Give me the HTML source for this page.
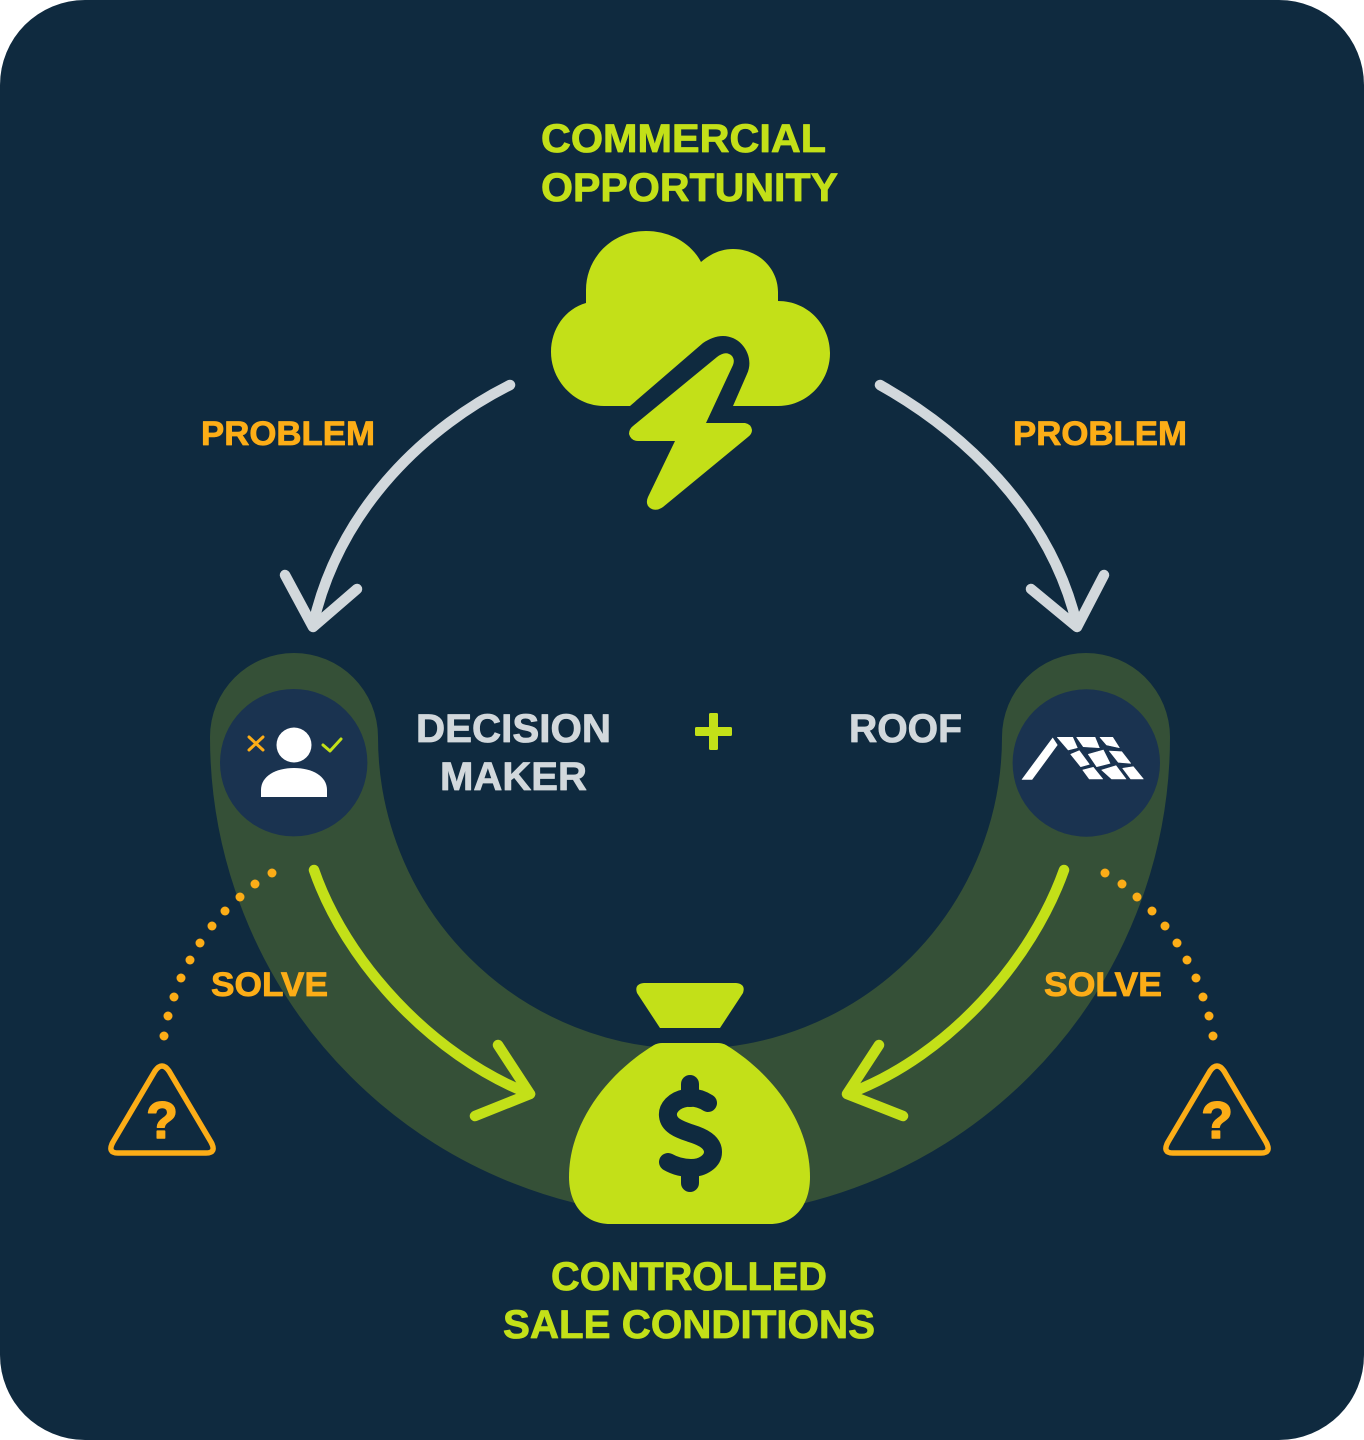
<!DOCTYPE html>
<html>
<head>
<meta charset="utf-8">
<style>
html,body{margin:0;padding:0;background:#fff;width:1364px;height:1440px;overflow:hidden}
svg{display:block}
text{font-family:"Liberation Sans",sans-serif;font-weight:700;stroke-width:.8;stroke-linejoin:round}
</style>
</head>
<body>
<svg width="1364" height="1440" viewBox="0 0 1364 1440" xmlns="http://www.w3.org/2000/svg">
<rect width="1364" height="1440" rx="85" ry="85" fill="#0f2a3f"/>

<path d="M294 737 A396 396 0 0 0 1086 737" fill="none" stroke="#355037" stroke-width="168" stroke-linecap="round"/>

<circle cx="293.7" cy="762.7" r="73.7" fill="#1a3350"/>
<circle cx="1086.3" cy="763" r="73.7" fill="#1a3350"/>

<g fill="#c3e018" stroke="#c3e018">
<text x="541" y="152" font-size="40" textLength="285" lengthAdjust="spacingAndGlyphs">COMMERCIAL</text>
<text x="541" y="201" font-size="40" textLength="297" lengthAdjust="spacingAndGlyphs">OPPORTUNITY</text>
<text x="551" y="1290" font-size="40" textLength="276" lengthAdjust="spacingAndGlyphs">CONTROLLED</text>
<text x="503" y="1338" font-size="40" textLength="372" lengthAdjust="spacingAndGlyphs">SALE CONDITIONS</text>
</g>
<g fill="#fcad17" stroke="#fcad17">
<text x="201" y="445" font-size="34" textLength="174" lengthAdjust="spacingAndGlyphs">PROBLEM</text>
<text x="1013" y="445" font-size="34" textLength="174" lengthAdjust="spacingAndGlyphs">PROBLEM</text>
<text x="211" y="996" font-size="34" textLength="117" lengthAdjust="spacingAndGlyphs">SOLVE</text>
<text x="1044" y="996" font-size="34" textLength="118" lengthAdjust="spacingAndGlyphs">SOLVE</text>
</g>
<g fill="#d2d8dc" stroke="#d2d8dc">
<text x="416" y="742" font-size="40" textLength="195" lengthAdjust="spacingAndGlyphs">DECISION</text>
<text x="440" y="790" font-size="40" textLength="147" lengthAdjust="spacingAndGlyphs">MAKER</text>
<text x="849" y="742" font-size="40" textLength="113" lengthAdjust="spacingAndGlyphs">ROOF</text>
</g>

<!-- plus -->
<rect x="695" y="727" width="37" height="9" rx="1.5" fill="#c3e018"/>
<rect x="709" y="713" width="9" height="37" rx="1.5" fill="#c3e018"/>

<!-- cloud -->
<path fill="#c3e018" d="M630 406 H604 C575 406 551 381 551 352 C551 329 565 309 586 303 V290 C586 257 613 231 646 231 C670 231 691 243 701 262 C710 254 721 249 733 249 C758 249 778 268 778 292 V301 C808 301 830 325 830 353 C830 382 807 406 778 406 H733 L747 374 C755 357 742 336 723 336 C716 336 709 339 703 343 Z"/>
<path fill="#c3e018" d="M717 357 Q726 350 732 356 Q735 360 733 365 L706 423 H745 Q751 424 752 430 Q752 434 748 437 L663 507 Q656 512 650 508 Q645 504 648 497 L675 441 H638 Q631 441 629 434 Q629 429 633 426 Z"/>

<!-- bag -->
<path fill="#c3e018" d="M644 983 H736 Q746 984 743 993 L720 1028 H660 L637 993 Q634 984 644 983 Z"/>
<path fill="#c3e018" d="M662 1043 H718 Q722 1043 726 1045 C775 1075 810 1125 810 1177 C810 1205 795 1224 770 1224 H610 C585 1224 569 1205 569 1177 C569 1125 605 1075 654 1045 Q658 1043 662 1043 Z"/>
<g fill="none" stroke="#0f2a3f" stroke-width="18" stroke-linecap="round" stroke-linejoin="round">
<path d="M708 1103 C700 1098 693 1097 686 1098 C674 1100 667 1108 668 1116 C669 1125 678 1129 690 1133 C703 1137 713 1142 713 1152 C713 1161 703 1168 691 1168 C683 1168 675 1166 668 1162"/>
<path d="M690 1084 V1098"/>
<path d="M690 1168 V1183"/>
</g>

<!-- grey arrows -->
<g fill="none" stroke="#d2d8dc" stroke-width="10.5" stroke-linecap="round" stroke-linejoin="round">
<path d="M510 385 C430 425 340 505 313 625"/>
<path d="M285 575 L313 627 L357 589"/>
<path d="M880 385 C960 430 1050 510 1077 625"/>
<path d="M1031 589 L1077 627 L1104 575"/>
</g>

<!-- lime arrows -->
<g fill="none" stroke="#c3e018" stroke-width="10.5" stroke-linecap="round" stroke-linejoin="round">
<path d="M314 870 C345 960 430 1055 530 1094"/>
<path d="M498 1045 L530 1094 L475 1116"/>
<path d="M1064 870 C1032 960 950 1055 850 1093"/>
<path d="M879 1045 L847 1094 L903 1116"/>
</g>

<!-- dots -->
<g fill="#fcad17">
<circle cx="272" cy="873" r="4.5"/><circle cx="255" cy="884" r="4.5"/><circle cx="240" cy="897" r="4.5"/><circle cx="225" cy="911" r="4.5"/><circle cx="212" cy="926" r="4.5"/><circle cx="200" cy="943" r="4.5"/><circle cx="190" cy="960" r="4.5"/><circle cx="181" cy="978" r="4.5"/><circle cx="174" cy="997" r="4.5"/><circle cx="168" cy="1016" r="4.5"/><circle cx="164" cy="1036" r="4.5"/>
<circle cx="1105" cy="873" r="4.5"/><circle cx="1122" cy="884" r="4.5"/><circle cx="1137" cy="897" r="4.5"/><circle cx="1152" cy="911" r="4.5"/><circle cx="1165" cy="926" r="4.5"/><circle cx="1177" cy="943" r="4.5"/><circle cx="1187" cy="960" r="4.5"/><circle cx="1196" cy="978" r="4.5"/><circle cx="1203" cy="997" r="4.5"/><circle cx="1209" cy="1016" r="4.5"/><circle cx="1213" cy="1036" r="4.5"/>
</g>

<!-- warning triangles -->
<g fill="none" stroke="#fcad17" stroke-width="5.5" stroke-linejoin="round">
<path d="M155 1071 Q162 1061 169 1071 L211 1142 Q217 1153 206 1153 H118 Q107 1153 113 1142 Z"/>
<path d="M1210 1071 Q1217 1061 1224 1071 L1266 1142 Q1272 1153 1261 1153 H1173 Q1162 1153 1168 1142 Z"/>
</g>
<g fill="#fcad17" stroke="#fcad17" font-size="52" text-anchor="middle">
<text x="162" y="1138" style="stroke-width:1.5">?</text>
<text x="1217" y="1138" style="stroke-width:1.5">?</text>
</g>

<!-- person -->
<circle cx="294" cy="745" r="17.5" fill="#fff"/>
<path fill="#fff" d="M261 797 V790 C261 776 276 768 294 768 C312 768 327 776 327 790 V797 Z"/>
<path d="M249 737 L263 750 M263 737 L249 750" stroke="#fcad17" stroke-width="3" fill="none" stroke-linecap="round"/>
<path d="M323 745 L330 751 L341 739" stroke="#c3e018" stroke-width="3" fill="none" stroke-linecap="round" stroke-linejoin="round"/>

<!-- roof -->
<g fill="#fff" stroke="#fff" stroke-width=".6" stroke-linejoin="round">
<polygon points="1052.7,738 1057.3,745 1032,779.5 1022,779.5"/>
<polygon points="1057.3,737.3 1072.7,737.3 1077.3,747.7 1068.3,750"/>
<polygon points="1076.7,737.3 1095,737.3 1099.3,747.7 1083.3,746.7"/>
<polygon points="1100,737.3 1112.7,737.3 1119.3,747.7 1106.7,745"/>
<polygon points="1070.7,754.3 1079.3,750.7 1089.3,764.3 1080.7,766.7"/>
<polygon points="1088.3,754.3 1103.3,750 1110,763.3 1096.7,766.7"/>
<polygon points="1109.3,751 1121.7,751.7 1130.7,763.3 1118.3,762.3"/>
<polygon points="1082.7,770 1093.3,767.3 1102.7,779 1089.3,779"/>
<polygon points="1101.7,770 1116,765.7 1126,779 1111.7,779"/>
<polygon points="1122.7,768.3 1133.3,766.7 1143.3,779 1130.7,779"/>
</g>
</svg>
</body>
</html>
